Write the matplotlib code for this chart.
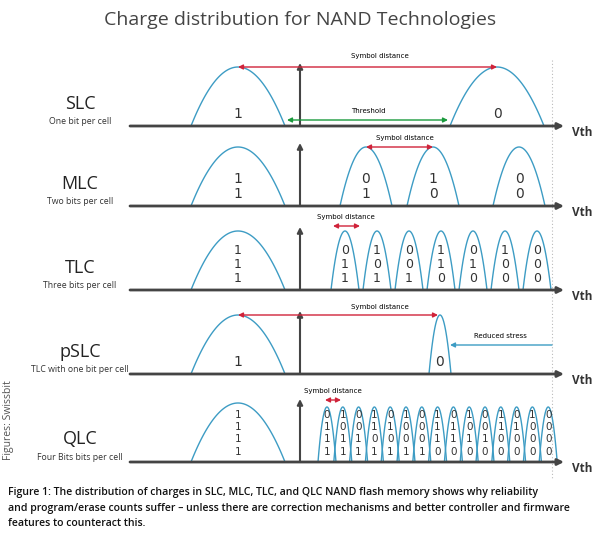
import numpy as np
import matplotlib
matplotlib.use("Agg")
import matplotlib.pyplot as plt

title = "Charge distribution for NAND Technologies"
names = ["SLC", "MLC", "TLC", "pSLC", "QLC"]
subtitles = ["One bit per cell", "Two bits per cell", "Three bits per cell",
             "TLC with one bit per cell", "Four Bits bits per cell"]
slc_codes = ["1", "0"]
mlc_codes = ["11", "01", "10", "00"]
tlc_codes = ["111", "011", "101", "001", "110", "010", "100", "000"]
pslc_codes = ["1", "0"]
qlc_codes = ["1111", "0111", "1011", "0011", "1101", "0101", "1001", "0001",
             "1110", "0110", "1010", "0010", "1100", "0100", "1000", "0000"]
caption = ["Figure 1: The distribution of charges in SLC, MLC, TLC, and QLC NAND flash memory shows why reliability",
           "and program/erase counts suffer \u2013 unless there are correction mechanisms and better controller and firmware",
           "features to counteract this."]

W, H = 600, 541
fig = plt.figure(figsize=(6, 5.41), dpi=100)
ax = fig.add_axes([0, 0, 1, 1])
ax.set_xlim(0, W); ax.set_ylim(H, 0); ax.axis("off")
FONT = "Open Sans"
BLUE = "#3d9cc4"; DARK = "#333333"; RED = "#d0233a"; GREEN = "#1a9a3c"

ax.text(300, 20, title, ha="center", va="center", fontsize=14, family=FONT, color="#444444")
ax.plot([552, 552], [60, 480], color="#bbbbbb", lw=0.8, ls=(0, (1, 2)))

baselines = [126, 206, 290, 374, 462]
height = 59
label_y = [104, 184, 268, 352, 439]

def bump(xc, hw, base, h):
    u = np.linspace(-1, 1, 80)
    ax.plot(xc + u * hw, base - h * (1 - u ** 2), color=BLUE, lw=1.0)

def arrow(x0, x1, y, c):
    ax.annotate("", xy=(x1, y), xytext=(x0, y),
                arrowprops=dict(arrowstyle="<|-|>", color=c, lw=1.0, mutation_scale=7, shrinkA=0, shrinkB=0))

def codes_col(x, base, code, fs, step):
    n = len(code)
    for i, ch in enumerate(code):
        ax.text(x, base - 5 - (n - 1 - i) * step, ch, ha="center", va="bottom",
                fontsize=fs, family="DejaVu Sans", color=DARK)

for k, b in enumerate(baselines):
    ax.annotate("", xy=(564, b), xytext=(130, b),
                arrowprops=dict(arrowstyle="-|>", color="#444444", lw=2, mutation_scale=9, shrinkA=0, shrinkB=0))
    ax.annotate("", xy=(300, b - 63), xytext=(300, b),
                arrowprops=dict(arrowstyle="-|>", color="#444444", lw=1.5, mutation_scale=8, shrinkA=0, shrinkB=0))
    ax.text(572, b + 6, "Vth", ha="left", va="center", fontsize=8.5, family=FONT, weight="bold", color="#333333")
    ax.text(80, label_y[k], names[k], ha="center", va="center", fontsize=13, family=FONT, color="#222222")
    ax.text(80, label_y[k] + 18, subtitles[k], ha="center", va="center", fontsize=6.3, family=FONT, color="#333333")
    bump(238, 47, b, height)

# SLC
b = baselines[0]
bump(497, 47, b, height)
codes_col(238, b, slc_codes[0], 10, 14)
codes_col(497, b, slc_codes[1], 10, 14)
arrow(238, 497, b - height, RED)
ax.text(380, b - 68, "Symbol distance", ha="center", fontsize=5, family="DejaVu Sans")
arrow(287, 448, b - 6, GREEN)
ax.text(368, b - 13, "Threshold", ha="center", fontsize=5, family="DejaVu Sans")

# MLC
b = baselines[1]
mlc_x = [238, 366, 433, 519]
for x in mlc_x[1:]:
    bump(x, 26, b, height)
for x, c in zip(mlc_x, mlc_codes):
    codes_col(x, b, c, 10, 15)
arrow(366, 433, b - height, RED)
ax.text(405, b - 66, "Symbol distance", ha="center", fontsize=5, family="DejaVu Sans")

# TLC
b = baselines[2]
tlc_x = [238] + [345 + 32 * i for i in range(7)]
for x in tlc_x[1:]:
    bump(x, 14, b, height)
for x, c in zip(tlc_x, tlc_codes):
    codes_col(x, b, c, 9, 14)
arrow(333, 360, b - 64, RED)
ax.text(346, b - 71, "Symbol distance", ha="center", fontsize=5, family="DejaVu Sans")

# pSLC
b = baselines[3]
bump(440, 11, b, height)
codes_col(238, b, pslc_codes[0], 10, 14)
codes_col(440, b, pslc_codes[1], 10, 14)
arrow(238, 438, b - height, RED)
ax.text(380, b - 65, "Symbol distance", ha="center", fontsize=5, family="DejaVu Sans")
ax.annotate("", xy=(450, b - 29), xytext=(552, b - 29),
            arrowprops=dict(arrowstyle="-|>", color=BLUE, lw=1.0, mutation_scale=7, shrinkA=0, shrinkB=0))
ax.text(500, b - 36, "Reduced stress", ha="center", fontsize=5, family="DejaVu Sans")

# QLC
b = baselines[4]
qlc_x = [238] + [327 + 15.8 * i for i in range(15)]
for x in qlc_x[1:]:
    bump(x, 9, b, 55)
for x, c in zip(qlc_x, qlc_codes):
    codes_col(x, b, c, 7.5, 12.5)
arrow(325, 341, b - 62, RED)
ax.text(333, b - 69, "Symbol distance", ha="center", fontsize=5, family="DejaVu Sans")

ax.text(9, 420, "Figures: Swissbit", rotation=90, ha="center", va="center", fontsize=7.5, family=FONT, color="#555555")
for i, line in enumerate(caption):
    ax.text(8, 493 + i * 15, line, ha="left", va="center", fontsize=7.6, family=FONT, weight="semibold", color="#111111")

fig.savefig("out.png", dpi=100)
